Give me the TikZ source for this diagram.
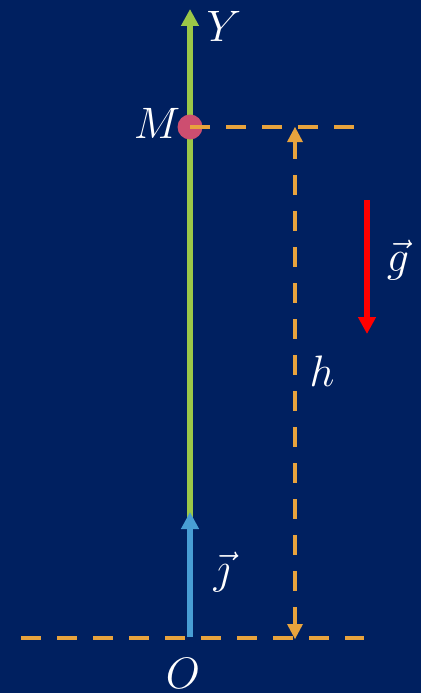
\documentclass[tikz,border=0pt]{standalone}
\usetikzlibrary{arrows.meta,calc}
\definecolor{bg}{RGB}{0,32,96}
\definecolor{axgreen}{RGB}{155,199,72}
\definecolor{jblue}{RGB}{72,158,212}
\definecolor{dorange}{RGB}{232,163,61}
\definecolor{mpink}{RGB}{205,78,112}
\begin{document}
\begin{tikzpicture}[x=1pt,y=-1pt,
  lbl/.style={text=white,font=\Huge,inner sep=0pt,scale=1.77},
  dashline/.style={dorange,line width=4.2pt,dash pattern=on 20pt off 16pt},
  tip/.style={-{Triangle[width=17pt,length=17pt]}}]
\fill[bg] (0,0) rectangle (421,693);
\useasboundingbox (0,0) rectangle (421,693);
\coordinate (O0) at (190,637);
\coordinate (Ytop) at (190,9);
\coordinate (jtop) at (190,512);
\coordinate (BL) at (21,638);
\coordinate (BR) at (364,638);
\coordinate (TR) at (356,127);
\coordinate (hT) at (295,127);
\coordinate (hB) at (295,639);
\coordinate (gT) at (367,200);
\coordinate (gB) at (367,334);
% dashed lines
\draw[dashline] (BL) -- (BR);
\draw[dashline] ($(hT)+(0,12)$) -- ($(hB)+(0,-12)$);
% axis
\draw[axgreen,line width=6pt,tip] (O0) -- (Ytop);
\draw[jblue,line width=6pt,tip] (O0) -- (jtop);
% g
\draw[red,line width=5.5pt,-{Triangle[width=17pt,length=17pt]}] (gT) -- (gB);
% point M
\node[circle,fill=mpink,minimum size=25pt,inner sep=0pt] (Mpt) at (190,127) {};
\draw[dashline] (Mpt.center) -- (TR);
% h arrow heads
\fill[dorange] (hT) -- ++(-8,15) -- ++(16,0) -- cycle;
\fill[dorange] (hB) -- ++(-8,-15) -- ++(16,0) -- cycle;
% labels
\node[lbl] (Y) at (224,26) {$Y$};
\node[lbl] (M) at (157,123) {$M$};
\node[lbl] (h) at (322,371) {$h$};
\node[lbl] (g) at (398,260) {$\vec g$};
\node[lbl] (j) at (222,572) {$\vec\jmath$};
\node[lbl] (O) at (183,673) {$O$};
\end{tikzpicture}
\end{document}
